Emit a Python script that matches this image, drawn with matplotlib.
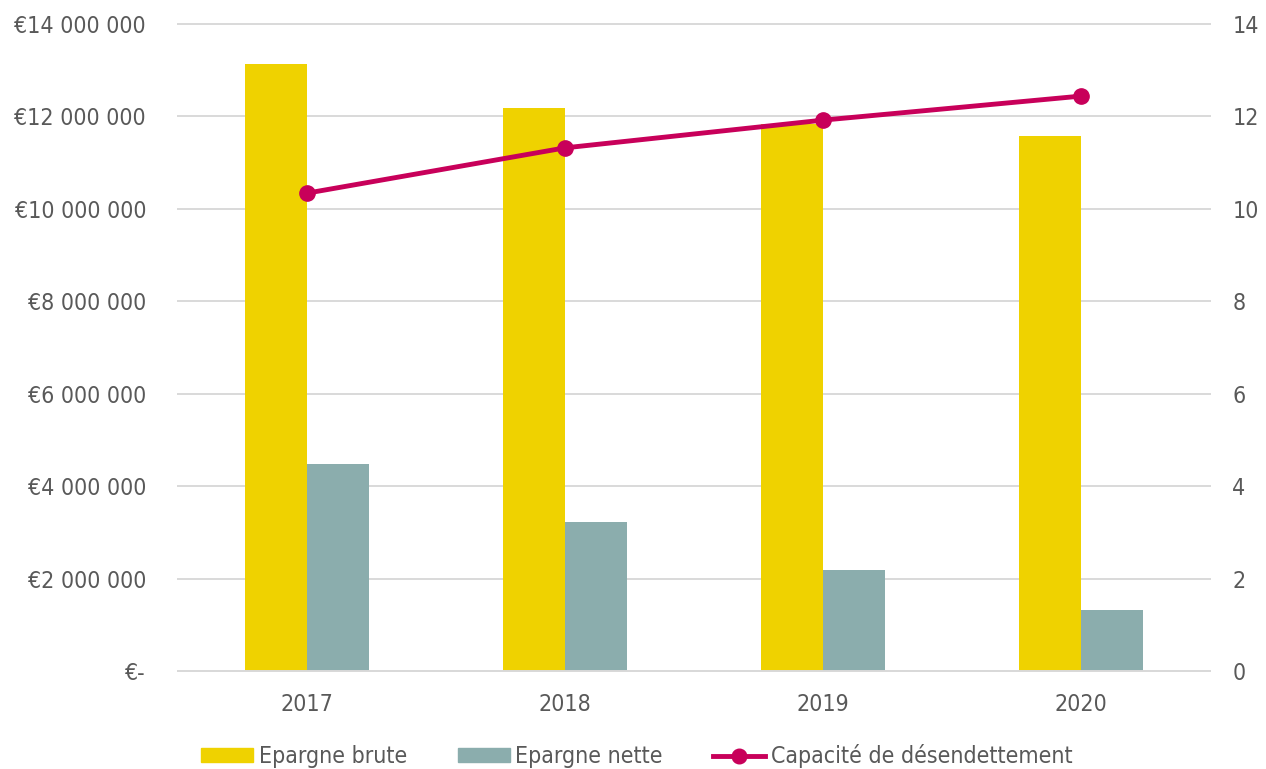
import matplotlib
matplotlib.use("Agg")
import matplotlib.pyplot as plt
import numpy as np
from matplotlib.ticker import FuncFormatter, MultipleLocator
from matplotlib.patches import Patch
from matplotlib.lines import Line2D

years = ["2017", "2018", "2019", "2020"]
epargne_brute = [13140000, 12180000, 11830000, 11580000]
epargne_nette = [4480000, 3220000, 2190000, 1320000]
capacite = [10.34, 11.32, 11.92, 12.44]

plt.rcParams['font.family'] = ['DejaVu Sans']
plt.rcParams['font.stretch'] = 'condensed'
txt = '#595959'
fs = 16.6

fig = plt.figure(figsize=(12.66, 7.69), dpi=100)
L, R, T, B = 178, 1210, 24, 671
ax = fig.add_axes([L/1266, 1-B/769, (R-L)/1266, (B-T)/769])
ax2 = ax.twinx()

x = np.arange(len(years))
w = 0.24
c_brute, c_nette, c_cap = '#EFD200', '#8BADAD', '#C8005A'
ax.bar(x - w/2, epargne_brute, w, color=c_brute, zorder=2)
ax.bar(x + w/2, epargne_nette, w, color=c_nette, zorder=2)
ax2.plot(x, capacite, color=c_cap, lw=3.5, marker='o', ms=11, zorder=3)

ax.set_xlim(-0.5, 3.5)
ax.set_ylim(0, 14000000)
ax2.set_ylim(0, 14)
ax.yaxis.set_major_locator(MultipleLocator(2000000))
ax2.yaxis.set_major_locator(MultipleLocator(2))

def fmt(v, pos):
    if v == 0:
        return '€-'
    return '€' + f"{int(round(v)):,}".replace(',', ' ')
ax.yaxis.set_major_formatter(FuncFormatter(fmt))

ax.grid(axis='y', color='#D9D9D9', lw=1.4, zorder=0)
for gl in ax.get_ygridlines():
    gl.set_clip_on(False)
ax.set_axisbelow(True)
for a in (ax, ax2):
    for s in a.spines.values():
        s.set_visible(False)
    a.tick_params(length=0, labelsize=fs, labelcolor=txt)
ax.spines['bottom'].set_visible(True)
ax.spines['bottom'].set_color('#D9D9D9')
ax.spines['bottom'].set_linewidth(1.4)
ax.set_xticks(x)
ax.set_xticklabels(years)
ax.tick_params(axis='x', pad=15.5)
ax.tick_params(axis='y', pad=23)
ax2.tick_params(axis='y', pad=16)

handles = [Patch(color=c_brute), Patch(color=c_nette),
           Line2D([], [], color=c_cap, lw=3.5, marker='o', ms=10.5)]
labels = ['Epargne brute', 'Epargne nette', 'Capacité de désendettement']
leg = fig.legend(handles, labels, loc='center', bbox_to_anchor=(0.5 + 4/1266, 1-756/769), ncol=3,
                 frameon=False, fontsize=fs, labelcolor=txt, handlelength=2.25, handleheight=0.52,
                 handletextpad=0.26, columnspacing=2.17)

fig.savefig('out.png', dpi=100)
